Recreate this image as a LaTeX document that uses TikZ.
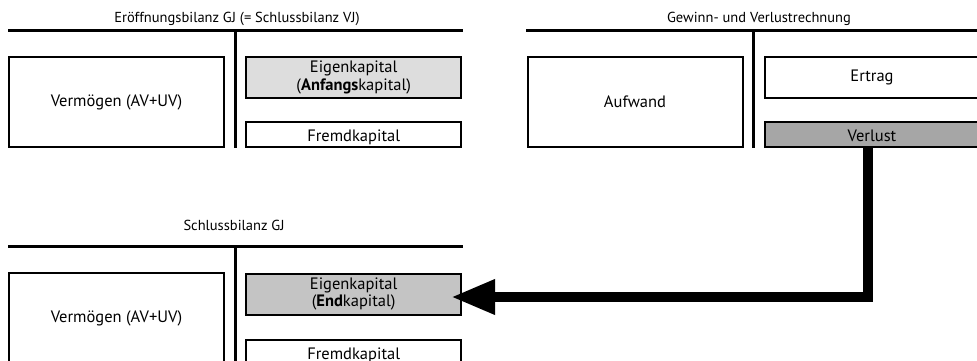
\documentclass[tikz,border=0pt]{standalone}
\usepackage{fontspec}
\setmainfont{PT Sans}
\usetikzlibrary{arrows.meta}
\definecolor{HellGrau}{HTML}{DDDDDD}
\definecolor{MittelGrau}{HTML}{C4C4C4}
\definecolor{DunkelGrau}{HTML}{A6A6A6}
\begin{document}
\begin{tikzpicture}[x=1pt, y=-1pt,
  posten/.style = {draw, line width=2pt, minimum width=215pt, minimum height=90pt,
                   inner sep=0pt, align=center, font=\fontsize{16.5}{17.5}\selectfont},
  kurz/.style   = {minimum height=41pt},
  flach/.style  = {minimum height=25pt, text height=14pt, text depth=0pt},
  titel/.style  = {anchor=base, inner sep=0pt, font=\fontsize{14.5}{16}\selectfont},
  konto/.style  = {line width=3pt},
  pfeil/.style  = {-{Triangle[length=44pt, width=33pt]}, line width=10pt}
]
  \useasboundingbox (0,0) rectangle (977,361);

  \foreach \l/\r/\m/\t/\b in {8/463/235.5/31/148, 526/990/753.3/31/148, 8/463/235.5/246.5/370}{
    \draw[konto] (\l,\t) -- (\r,\t);
    \draw[konto] (\m,\t) -- (\m,\b);
  }

  \node[titel] (tEB) at (237,22.7) {Eröffnungsbilanz GJ (= Schlussbilanz VJ)};
  \node[titel] (tGuV) at (759,22.7) {Gewinn- und Verlustrechnung};
  \node[titel] (tSB) at (234,230.7) {Schlussbilanz GJ};

  \node[posten] (verm1) at (116.5,102) {Vermögen (AV+UV)};
  \node[posten, kurz, fill=HellGrau] (ek1) at (353.7,77.5)
    {Eigenkapital\\(\textbf{Anfangs}kapital)};
  \node[posten, flach] (fk1) at (353.7,134.5) {Fremdkapital};

  \node[posten] (aufw) at (635,102) {Aufwand};
  \node[posten, kurz] (ertr) at (872,77.5) {Ertrag};
  \node[posten, flach, fill=DunkelGrau] (verl) at (872,134.5) {Verlust};

  \node[posten] (verm2) at (116.5,318) {Vermögen (AV+UV)};
  \node[posten, kurz, fill=MittelGrau] (ek2) at (353.7,294)
    {Eigenkapital\\(\textbf{End}kapital)};
  \node[posten, flach] (fk2) at (353.7,352.5) {Fremdkapital};

  \draw[pfeil] ([xshift=-4pt]verl.south) |- ([xshift=-11pt, yshift=-3pt]ek2.east);
\end{tikzpicture}
\end{document}
